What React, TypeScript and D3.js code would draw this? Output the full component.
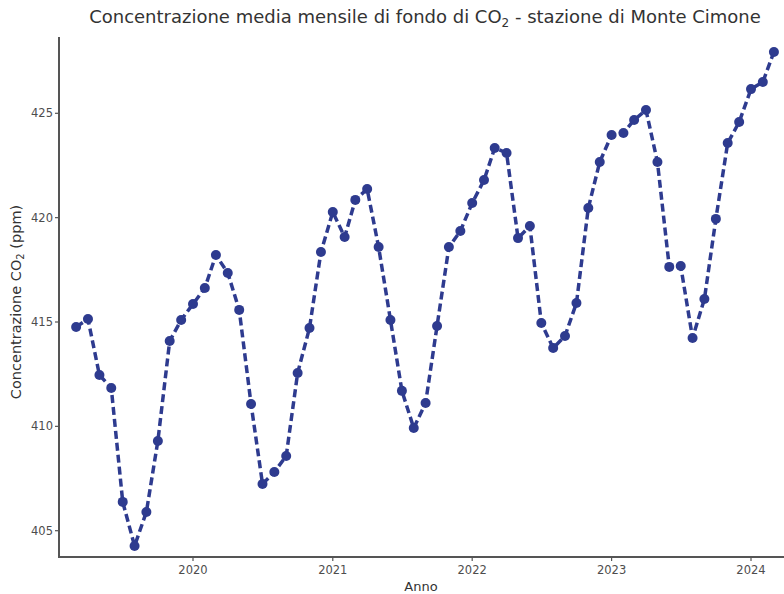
import React from "react";
import * as d3 from "d3";

const startMonth = "2019-03";
const endMonth = "2024-03";
const co2Values: number[] = [
  414.76, 415.14, 412.46, 411.84, 406.38, 404.27, 405.9, 409.3, 414.09, 415.1,
  415.86, 416.63, 418.21, 417.35, 415.58, 411.07, 407.24, 407.81, 408.58, 412.56,
  414.71, 418.35, 420.27, 419.07, 420.85, 421.37, 418.59, 415.1, 411.7, 409.92,
  411.12, 414.81, 418.59, 419.36, 420.7, 421.8, 423.34, 423.1, 419.02, 419.6,
  414.95, 413.75, 414.33, 415.91, 420.46, 422.67, 423.96, 424.06, 424.68, 425.16,
  422.67, 417.64, 417.68, 414.23, 416.1, 419.94, 423.58, 424.58, 426.16, 426.5,
  427.94,
];
const yTicks = [405, 410, 415, 420, 425];
const xTickYears = [2020, 2021, 2022, 2023, 2024];

const W = 784;
const H = 594;
const AXIS_LEFT = 59;
const AXIS_TOP = 37;
const AXIS_BOTTOM = 557;
const COLOR = "#2E3B8F";
const AXIS = "#555555";
const TEXT = "#4d4d4d";
const FONT = "DejaVu Sans, Verdana, sans-serif";

const parseMonth = d3.timeParse("%Y-%m");

export default function App() {
  const start = parseMonth(startMonth)!;
  const end = parseMonth(endMonth)!;
  const months = d3.timeMonth.range(start, d3.timeMonth.offset(end, 1));
  const data = months.map((d, i) => ({ date: d, value: co2Values[i] }));

  const x = d3
    .scaleTime()
    .domain([new Date(2020, 0, 1), new Date(2024, 0, 1)])
    .range([193, 751]);
  const y = d3.scaleLinear().domain([405, 425]).range([530.7, 113.3]);

  const line = d3
    .line<{ date: Date; value: number }>()
    .x((d) => x(d.date))
    .y((d) => y(d.value));

  return (
    <svg
      width={W}
      height={H}
      style={{ position: "absolute", left: 0, top: 0, background: "#fff" }}
      fontFamily={FONT}
    >
      <text x={425} y={23} textAnchor="middle" fontSize={18} fill="#333">
        Concentrazione media mensile di fondo di CO
        <tspan dy={4} fontSize={12}>2</tspan>
        <tspan dy={-4}> - stazione di Monte Cimone</tspan>
      </text>

      <line x1={AXIS_LEFT} x2={AXIS_LEFT} y1={AXIS_TOP} y2={AXIS_BOTTOM} stroke={AXIS} strokeWidth={2} />
      <line x1={AXIS_LEFT - 1} x2={W} y1={AXIS_BOTTOM} y2={AXIS_BOTTOM} stroke={AXIS} strokeWidth={2} />

      {yTicks.map((t) => (
        <g key={t}>
          <line x1={AXIS_LEFT - 4} x2={AXIS_LEFT} y1={y(t)} y2={y(t)} stroke={AXIS} strokeWidth={1.2} />
          <text x={AXIS_LEFT - 6} y={y(t)} dy="0.35em" textAnchor="end" fontSize={11.5} fill={TEXT}>
            {t}
          </text>
        </g>
      ))}
      {xTickYears.map((yr) => {
        const px = x(new Date(yr, 0, 1));
        return (
          <g key={yr}>
            <line x1={px} x2={px} y1={AXIS_BOTTOM} y2={AXIS_BOTTOM + 4} stroke={AXIS} strokeWidth={1.2} />
            <text x={px} y={570} dy="0.35em" textAnchor="middle" fontSize={11.5} fill={TEXT}>
              {yr}
            </text>
          </g>
        );
      })}

      <text x={421} y={586} dy="0.35em" textAnchor="middle" fontSize={13} fill="#333">
        Anno
      </text>
      <text
        transform={`translate(16, 302) rotate(-90)`}
        textAnchor="middle"
        dy="0.35em"
        fontSize={14.5}
        fill="#333"
      >
        Concentrazione CO
        <tspan dy={3} fontSize={10}>2</tspan>
        <tspan dy={-3}> (ppm)</tspan>
      </text>

      <path
        d={line(data) || ""}
        fill="none"
        stroke={COLOR}
        strokeWidth={3.5}
        strokeDasharray="8,4"
      />
      {data.map((d, i) => (
        <circle key={i} cx={x(d.date)} cy={y(d.value)} r={5} fill={COLOR} />
      ))}
    </svg>
  );
}
